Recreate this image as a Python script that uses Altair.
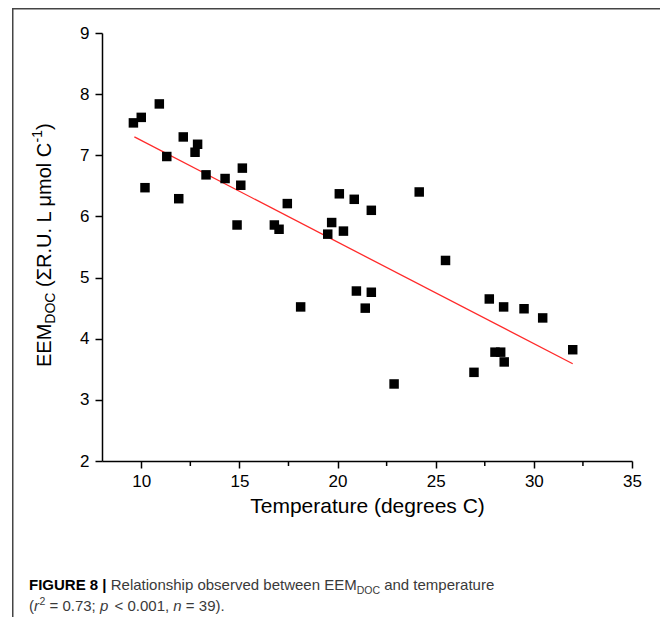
import altair as alt
import pandas as pd

# ---- data ----
temperature = [9.60, 10.00, 10.92, 12.14, 12.87, 12.74, 11.30, 10.19, 11.91, 13.30,
               14.27, 15.15, 15.07, 17.44, 20.09, 14.88, 16.78, 17.02, 19.70, 19.50,
               20.30, 18.12, 20.85, 21.72, 24.16, 25.50, 20.96, 21.72, 21.41, 22.88,
               27.73, 28.46, 29.50, 30.45, 28.02, 28.31, 28.49, 26.95, 31.98]
eem_doc = [7.53, 7.62, 7.84, 7.30, 7.18, 7.05, 6.98, 6.47, 6.29, 6.68,
           6.62, 6.79, 6.51, 6.21, 6.37, 5.86, 5.86, 5.79, 5.90, 5.71,
           5.76, 4.52, 6.28, 6.10, 6.40, 5.28, 4.78, 4.76, 4.50, 3.26,
           4.65, 4.52, 4.49, 4.34, 3.78, 3.78, 3.62, 3.45, 3.82]
fit_x = [9.65, 31.98]
fit_y = [7.30, 3.59]
x_ticks = [10, 15, 20, 25, 30, 35]
x_minor = [12.5, 17.5, 22.5, 27.5, 32.5]
y_ticks = [2, 3, 4, 5, 6, 7, 8, 9]

W, H = 530, 428
FONT = "Liberation Sans"

# Arial / Liberation Sans advance widths (per em) used to lay out rich-text pieces
_W = {" ": .278, "(": .333, ")": .333, "Σ": .594, "μ": .576, "|": .26, "=": .584,
      "<": .584, ";": .278, ",": .278, ".": .278, "-": .333}
for ch in "0123456789":
    _W[ch] = .556
_W.update(dict(zip("abcdefghijklmnopqrstuvwxyz",
                   [.556, .556, .5, .556, .556, .278, .556, .556, .222, .222, .5, .222, .833,
                    .556, .556, .556, .556, .333, .5, .278, .556, .5, .722, .5, .5, .5])))
_W.update(dict(zip("ABCDEFGHIJKLMNOPQRSTUVWXYZ",
                   [.667, .667, .722, .722, .667, .611, .778, .722, .278, .5, .667, .556, .833,
                    .722, .778, .667, .778, .722, .667, .611, .722, .667, .944, .667, .667, .611])))


def tw(s, size, bold=False):
    tot = 0.0
    for ch in s:
        v = _W.get(ch, .556)
        if bold and ch == "|":
            v = .28
        tot += v
    return tot * size


pts = pd.DataFrame({"t": temperature, "e": eem_doc})
fit = pd.DataFrame({"t": fit_x, "e": fit_y})
minor = pd.DataFrame({"t": x_minor})

xscale = alt.Scale(domain=[8, 35], nice=False, zero=False)
yscale = alt.Scale(domain=[2, 9], nice=False, zero=False)

points = alt.Chart(pts).mark_square(size=90, color="black", opacity=1, filled=True).encode(
    x=alt.X("t:Q", scale=xscale, axis=alt.Axis(
        values=x_ticks, title="Temperature (degrees C)", grid=False, format="d",
        tickSize=7, labelPadding=5, labelFontSize=17, titleFontSize=21,
        titlePadding=6, titleFontWeight="normal", labelFont=FONT, titleFont=FONT,
        domainColor="black", tickColor="black", domainWidth=1.5, tickWidth=1.5,
        labelColor="black", titleColor="black", labelFlush=False)),
    y=alt.Y("e:Q", scale=yscale, axis=alt.Axis(
        values=y_ticks, title=None, grid=False, tickSize=7, labelPadding=6, format="d",
        labelFontSize=17, labelFont=FONT, domainColor="black", tickColor="black",
        domainWidth=1.5, tickWidth=1.5, labelColor="black", labelFlush=False)),
)

line = alt.Chart(fit).mark_line(color="#ff2a2a", strokeWidth=1.3).encode(
    x=alt.X("t:Q", scale=xscale), y=alt.Y("e:Q", scale=yscale))

minor_ticks = alt.Chart(minor).mark_tick(color="black", thickness=1.5, size=5,
                                         orient="vertical", opacity=1).encode(
    x=alt.X("t:Q", scale=xscale), y=alt.value(H + 2.5))

one = alt.Data(values=[{}])


def txt(text, x, y, size, **kw):
    return alt.Chart(one).mark_text(text=text, fontSize=size, font=FONT,
                                    align="left", baseline="alphabetic", **kw).encode(
        x=alt.value(x), y=alt.value(y))


def vtxt(text, x, y, size, **kw):
    return alt.Chart(one).mark_text(text=text, fontSize=size, font=FONT, angle=270,
                                    align="left", baseline="middle", color="black", **kw).encode(
        x=alt.value(x), y=alt.value(y))


# y-axis title (rotated, built from pieces, reading upward)
yx, yy = -57, 334
ytitle = []
for s, size, dx, gap in [("EEM", 20, 0, 0), ("DOC", 14, 6, 0),
                         ("(ΣR.U. L μmol C", 20, 0, tw(" ", 20)),
                         ("-1", 14, -7, 0), (")", 20, 0, 0)]:
    yy -= gap
    ytitle.append(vtxt(s, yx + dx, yy, size))
    yy -= tw(s, size)

# caption
cs, ss = 15, 10.5
c1, c2 = 557, 578
gray = "#3a3a3a"
cx0 = -73
caption = []
pieces1 = [("FIGURE 8 |", cs, "bold", "normal", 0, 0, "black"),
           ("Relationship observed between EEM", cs, "normal", "normal", 0, tw(" ", cs), gray),
           ("DOC", ss, "normal", "normal", 4, 0, gray),
           ("and temperature", cs, "normal", "normal", 0, tw(" ", cs), gray)]
pieces2 = [("(", cs, "normal", "normal", 0, 0, gray),
           ("r", cs, "normal", "italic", 0, 0, gray),
           ("2", ss, "normal", "normal", -6, 0.5, gray),
           ("= 0.73;", cs, "normal", "normal", 0, tw(" ", cs), gray),
           ("p", cs, "normal", "italic", 0, tw(" ", cs), gray),
           ("< 0.001,", cs, "normal", "normal", 0, 1.5 * tw(" ", cs), gray),
           ("n", cs, "normal", "italic", 0, tw(" ", cs), gray),
           ("= 39).", cs, "normal", "normal", 0, tw(" ", cs), gray)]
for pieces, base in [(pieces1, c1), (pieces2, c2)]:
    x = cx0
    for s, size, wt, st, dy, gap, col in pieces:
        x += gap
        caption.append(txt(s, x, base + dy, size, fontWeight=wt, fontStyle=st, color=col))
        x += tw(s, size, bold=(wt == "bold"))

# figure frame (border of the figure panel)
frame_top = alt.Chart(one).mark_rect(color="#444444", opacity=1).encode(
    x=alt.value(-90), x2=alt.value(W + 80), y=alt.value(-25), y2=alt.value(-23.5))
frame_left = alt.Chart(one).mark_rect(color="#444444", opacity=1).encode(
    x=alt.value(-90), x2=alt.value(-88.5), y=alt.value(-25), y2=alt.value(H + 190))

chart = alt.layer(
    frame_top, frame_left, minor_ticks, line, points, *ytitle, *caption
).properties(
    width=W, height=H,
    autosize=alt.AutoSizeParams(type="none"),
    padding={"left": 94, "top": 25, "right": 28, "bottom": 156},
    background="white",
).configure_view(stroke=None)

chart.save("out.html", embed_options={"renderer": "svg", "actions": False})
